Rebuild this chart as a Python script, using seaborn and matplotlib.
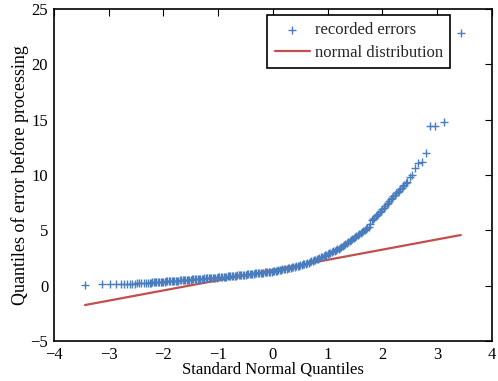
import matplotlib
matplotlib.use("Agg")
import matplotlib.pyplot as plt
import seaborn as sns
import pandas as pd

# Sorted error quantiles (y) against standard normal quantiles (x)
tail_x = [-3.43, -3.12, -2.98, -2.87, -2.78, -2.72, -2.66, -2.61, -2.57,
          -2.52, -2.48, -2.44, -2.40, -2.36, -2.32, -2.28, -2.25, -2.225]
tail_y = [0.10, 0.12, 0.13, 0.14, 0.15, 0.16, 0.17, 0.17, 0.18,
          0.19, 0.20, 0.21, 0.22, 0.23, 0.24, 0.26, 0.27, 0.28]

body_x = [-2.200, -2.175, -2.150, -2.125, -2.100, -2.075, -2.050, -2.025,
          -2.000, -1.975, -1.950, -1.925, -1.900, -1.875, -1.850, -1.825,
          -1.800, -1.775, -1.750, -1.725, -1.700, -1.675, -1.650, -1.625,
          -1.600, -1.575, -1.550, -1.525, -1.500, -1.475, -1.450, -1.425,
          -1.400, -1.375, -1.350, -1.325, -1.300, -1.275, -1.250, -1.225,
          -1.200, -1.175, -1.150, -1.125, -1.100, -1.075, -1.050, -1.025,
          -1.000, -0.975, -0.950, -0.925, -0.900, -0.875, -0.850, -0.825,
          -0.800, -0.775, -0.750, -0.725, -0.700, -0.675, -0.650, -0.625,
          -0.600, -0.575, -0.550, -0.525, -0.500, -0.475, -0.450, -0.425,
          -0.400, -0.375, -0.350, -0.325, -0.300, -0.275, -0.250, -0.225,
          -0.200, -0.175, -0.150, -0.125, -0.100, -0.075, -0.050, -0.025,
          0.000, 0.025, 0.050, 0.075, 0.100, 0.125, 0.150, 0.175,
          0.200, 0.225, 0.250, 0.275, 0.300, 0.325, 0.350, 0.375,
          0.400, 0.425, 0.450, 0.475, 0.500, 0.525, 0.550, 0.575,
          0.600, 0.625, 0.650, 0.675, 0.700, 0.725, 0.750, 0.775,
          0.800, 0.825, 0.850, 0.875, 0.900, 0.925, 0.950, 0.975,
          1.000, 1.025, 1.050, 1.075, 1.100, 1.125, 1.150, 1.175,
          1.200, 1.225, 1.250, 1.275, 1.300, 1.325, 1.350, 1.375,
          1.400, 1.425, 1.450, 1.475, 1.500, 1.525, 1.550, 1.575,
          1.600, 1.625, 1.650, 1.675, 1.700, 1.725, 1.750, 1.775,
          1.800, 1.825, 1.850, 1.875, 1.900, 1.925, 1.950, 1.975,
          2.000, 2.025, 2.050, 2.075, 2.100, 2.125, 2.150, 2.175,
          2.200, 2.225, 2.250, 2.275, 2.300, 2.325, 2.350, 2.375,
          2.400, 2.425, 2.450]
body_y = [0.29, 0.30, 0.31, 0.31, 0.32, 0.33, 0.34, 0.35,
          0.36, 0.37, 0.38, 0.39, 0.40, 0.41, 0.42, 0.43,
          0.44, 0.45, 0.46, 0.46, 0.47, 0.48, 0.49, 0.50,
          0.51, 0.52, 0.53, 0.54, 0.55, 0.56, 0.57, 0.58,
          0.59, 0.60, 0.61, 0.62, 0.63, 0.64, 0.65, 0.66,
          0.67, 0.68, 0.69, 0.70, 0.71, 0.72, 0.73, 0.74,
          0.76, 0.77, 0.78, 0.80, 0.81, 0.82, 0.83, 0.85,
          0.86, 0.87, 0.88, 0.90, 0.91, 0.92, 0.93, 0.95,
          0.96, 0.97, 0.99, 1.00, 1.01, 1.03, 1.04, 1.05,
          1.07, 1.08, 1.10, 1.11, 1.12, 1.14, 1.15, 1.16,
          1.18, 1.19, 1.21, 1.22, 1.24, 1.25, 1.27, 1.28,
          1.30, 1.32, 1.35, 1.37, 1.40, 1.42, 1.45, 1.47,
          1.50, 1.53, 1.55, 1.58, 1.61, 1.63, 1.66, 1.69,
          1.72, 1.75, 1.79, 1.82, 1.86, 1.89, 1.93, 1.96,
          2.00, 2.04, 2.09, 2.14, 2.19, 2.24, 2.28, 2.33,
          2.38, 2.44, 2.50, 2.56, 2.62, 2.68, 2.74, 2.79,
          2.85, 2.91, 2.97, 3.04, 3.10, 3.16, 3.22, 3.29,
          3.35, 3.43, 3.52, 3.60, 3.69, 3.77, 3.85, 3.94,
          4.02, 4.12, 4.22, 4.31, 4.41, 4.51, 4.61, 4.70,
          4.80, 4.89, 4.98, 5.07, 5.16, 5.25, 5.35, 5.60,
          5.90, 6.02, 6.15, 6.28, 6.40, 6.52, 6.65, 6.78,
          6.90, 7.05, 7.20, 7.35, 7.50, 7.65, 7.80, 7.95,
          8.10, 8.22, 8.35, 8.48, 8.60, 8.72, 8.85, 8.98,
          9.10, 9.25, 9.40]

top_x = [2.50, 2.54, 2.59, 2.65, 2.72, 2.79, 2.87, 2.96, 3.12, 3.43]
top_y = [9.85, 10.00, 10.60, 11.10, 11.20, 12.00, 14.45, 14.45, 14.80, 22.80]

# Fitted normal reference line endpoints
line_x = [-3.43, 3.43]
line_y = [-1.75, 4.58]

xticks = [-4, -3, -2, -1, 0, 1, 2, 3, 4]
yticks = [-5, 0, 5, 10, 15, 20, 25]

sns.set_theme(style="white")
plt.rcParams["font.family"] = ["Liberation Serif", "DejaVu Serif"]

fig = plt.figure(figsize=(4.98, 3.81), dpi=100)
ax = fig.add_axes([0.108, 0.105, 0.880, 0.871])

blue = "#4a7dbd"
red = "#c0504d"

pts = pd.DataFrame({"x": tail_x + body_x + top_x, "y": tail_y + body_y + top_y})
ln = pd.DataFrame({"x": line_x, "y": line_y})

sns.scatterplot(data=pts, x="x", y="y", marker="+", s=36, color=blue,
                linewidth=1.0, ax=ax, label="recorded errors", zorder=3)
sns.lineplot(data=ln, x="x", y="y", color=red, linewidth=1.6, ax=ax,
             label="normal distribution", zorder=2)

ax.set_xlim(-4, 4)
ax.set_ylim(-5, 25)
ax.set_xticks(xticks)
ax.set_yticks(yticks)
ax.set_xticklabels([f"{v}".replace("-", "\u2212") for v in xticks])
ax.set_yticklabels([f"{v}".replace("-", "\u2212") for v in yticks])
ax.tick_params(direction="in", length=5, width=0.8, top=True, right=True,
               labelsize=12, colors="black")
ax.tick_params(axis="x", pad=4)
ax.tick_params(axis="y", pad=4)
for sp in ax.spines.values():
    sp.set_color("black")
    sp.set_linewidth(1.2)

ax.set_xlabel("Standard Normal Quantiles", fontsize=12, labelpad=-1, color="black")
ax.set_ylabel("Quantiles of error before processing", fontsize=13, labelpad=1, color="black")

leg = ax.legend(loc="upper right", bbox_to_anchor=(0.905, 0.983), fontsize=12,
                frameon=True, fancybox=False, framealpha=1, edgecolor="black",
                borderpad=0.45, handlelength=2.1, handletextpad=0.3,
                labelspacing=0.4, borderaxespad=0)
leg.get_frame().set_linewidth(1.2)

fig.savefig("out.png", dpi=100)
